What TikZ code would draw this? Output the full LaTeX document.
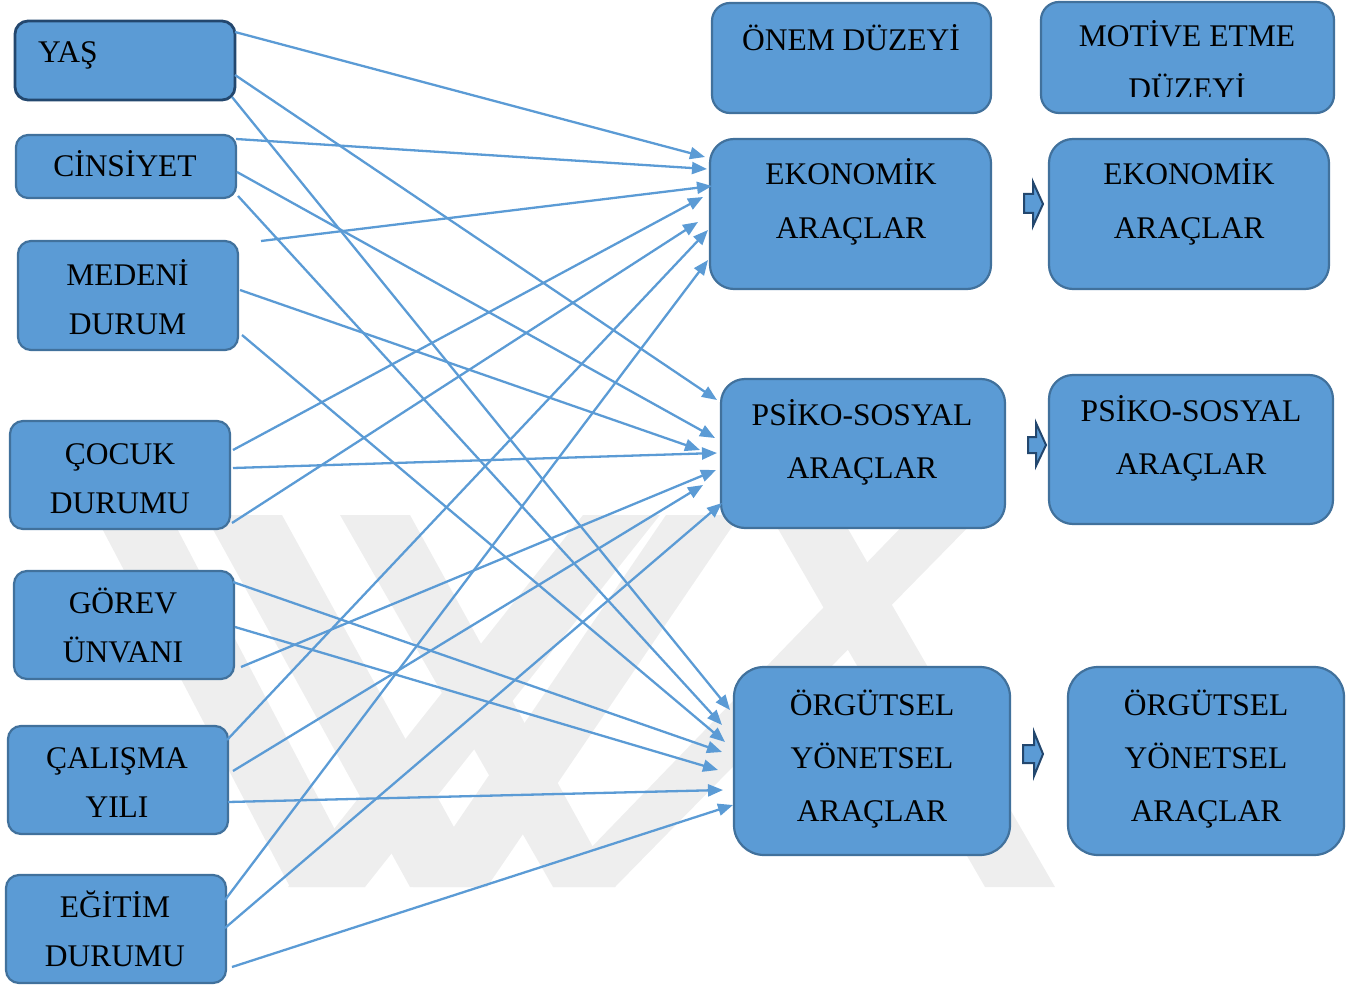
\documentclass[tikz,border=0pt]{standalone}
\usepackage{fontspec}
\setmainfont{Liberation Serif}
\usetikzlibrary{arrows.meta,calc}
\definecolor{boxfill}{HTML}{5B9BD5}
\definecolor{boxline}{HTML}{41719C}
\definecolor{darkline}{HTML}{23476E}
\definecolor{wm}{HTML}{EEEEEE}
\tikzset{
  box/.style={draw=boxline, fill=boxfill, line width=2.2pt, inner sep=0pt},
  smallbox/.style={box, rounded corners=13pt, minimum width=220pt, minimum height=108pt},
  txt/.style={inner sep=0pt, anchor=base, font=\fontsize{31.5}{38}\selectfont},
  conn/.style={draw=boxfill, line width=2.3pt, -{Triangle[length=15pt,width=12pt]}},
  blockarrow/.style={draw=darkline, fill=boxfill, line width=2pt, line join=miter},
  wmband/.style={fill=wm, draw=none},
}
\newcommand\cnx[4]{\draw[conn] ($(#1)+(#2)$) -- ($(#3)+(#4)$);}
\begin{document}
\begin{tikzpicture}[x=1pt,y=-1pt]
\useasboundingbox (0,0) rectangle (1357,987);

% faint watermark in the background
\fill[wmband] (95,515) -- (170,515) -- (365,887) -- (290,887) -- cycle;
\fill[wmband] (583,515) -- (660,515) -- (365,887) -- (288,887) -- cycle;
\fill[wmband] (205,515) -- (282,515) -- (487,887) -- (410,887) -- cycle;
\fill[wmband] (666,515) -- (740,515) -- (487,887) -- (413,887) -- cycle;
\fill[wmband] (340,515) -- (410,515) -- (615,887) -- (553,887) -- cycle;
\fill[wmband] (913,515) -- (980,515) -- (615,887) -- (553,887) -- cycle;
\fill[wmband] (770,515) -- (840,515) -- (1055,887) -- (985,887) -- cycle;

% left column boxes
\node[box, draw=darkline, line width=2.8pt, rounded corners=13pt, minimum width=220pt, minimum height=79pt] (yas) at (125,60.5) {};
\node[box, rounded corners=12pt, minimum width=220pt, minimum height=63pt] (cins) at (126,166.5) {};
\node[smallbox, minimum height=109pt] (med) at (128,295.5) {};
\node[smallbox] (coc) at (120,475) {};
\node[smallbox] (gor) at (124,625) {};
\node[smallbox] (cal) at (118,780) {};
\node[smallbox] (egi) at (116,929) {};

% right boxes
\node[box, rounded corners=18pt, minimum width=279pt, minimum height=110pt] (onem) at (851.5,58) {};
\node[box, rounded corners=18pt, minimum width=293pt, minimum height=111pt] (motive) at (1187.5,57.5) {};
\node[box, rounded corners=24pt, minimum width=281pt, minimum height=150pt] (eko) at (850.5,214) {};
\node[box, rounded corners=24pt, minimum width=280pt, minimum height=150pt] (eko2) at (1189,214) {};
\node[box, rounded corners=24pt, minimum width=284pt, minimum height=149pt] (psi) at (863,453.5) {};
\node[box, rounded corners=24pt, minimum width=284pt, minimum height=149pt] (psi2) at (1191,449.5) {};
\node[box, rounded corners=30pt, minimum width=276pt, minimum height=188pt] (org) at (872,761) {};
\node[box, rounded corners=30pt, minimum width=276pt, minimum height=188pt] (org2) at (1206,761) {};

% texts
\node[txt, anchor=base west] (tyas) at (38,63) {YAŞ};
\node[txt] (tcins) at (125,177) {CİNSİYET};
\node[txt] (tmed1) at (127.5,285) {MEDENİ};
\node[txt] (tmed2) at (127.5,334) {DURUM};
\node[txt] (tcoc1) at (120,464) {ÇOCUK};
\node[txt] (tcoc2) at (120,513) {DURUMU};
\node[txt] (tgor1) at (123,613) {GÖREV};
\node[txt] (tgor2) at (123,662) {ÜNVANI};
\node[txt] (tcal1) at (117,768) {ÇALIŞMA};
\node[txt] (tcal2) at (117,817) {YILI};
\node[txt] (tegi1) at (115,917) {EĞİTİM};
\node[txt] (tegi2) at (115,966) {DURUMU};

\node[txt] (tonem) at (851,51) {ÖNEM DÜZEYİ};
\begin{scope}
\clip (1041,2) rectangle (1334,97);
\node[txt] (tmot1) at (1187,47) {MOTİVE ETME};
\node[txt] (tmot2) at (1187,100) {DÜZEYİ};
\end{scope}
\node[txt] (teko1) at (851,185) {EKONOMİK};
\node[txt] (teko2) at (851,238) {ARAÇLAR};
\node[txt] (teko3) at (1189,185) {EKONOMİK};
\node[txt] (teko4) at (1189,238) {ARAÇLAR};
\node[txt] (tpsi1) at (862,425) {PSİKO-SOSYAL};
\node[txt] (tpsi2) at (862,478) {ARAÇLAR};
\node[txt] (tpsi3) at (1191,421) {PSİKO-SOSYAL};
\node[txt] (tpsi4) at (1191,474) {ARAÇLAR};
\node[txt] (torg1) at (872,715) {ÖRGÜTSEL};
\node[txt] (torg2) at (872,768) {YÖNETSEL};
\node[txt] (torg3) at (872,821) {ARAÇLAR};
\node[txt] (torg4) at (1206,715) {ÖRGÜTSEL};
\node[txt] (torg5) at (1206,768) {YÖNETSEL};
\node[txt] (torg6) at (1206,821) {ARAÇLAR};

% block arrows
\draw[blockarrow] (1024,194) -- (1033,194) -- (1033,182) -- (1043,204) -- (1033,226) -- (1033,213) -- (1024,213) -- cycle;
\draw[blockarrow] (1028,437) -- (1036,437) -- (1036,423) -- (1046,445) -- (1036,466) -- (1036,453) -- (1028,453) -- cycle;
\draw[blockarrow] (1023,745) -- (1034,745) -- (1034,732) -- (1043,754) -- (1034,776) -- (1034,763) -- (1023,763) -- cycle;

% connectors
\coordinate (free) at (261,241);
\cnx{yas.center}{110,-28.5}{eko.center}{-145.5,-57}
\cnx{yas.center}{110,14.5}{psi.center}{-146,-53.5}
\cnx{yas.center}{107,36.5}{org.center}{-142,-51}
\cnx{cins.center}{110,-27.5}{eko.center}{-143.5,-45}
\cnx{cins.center}{111,5.5}{psi.center}{-148,-15.5}
\cnx{cins.center}{112,29.5}{org.center}{-150,-36}
\cnx{free}{0,0}{eko.center}{-138.5,-28}
\cnx{med.center}{112,-5.5}{psi.center}{-163,-3.5}
\cnx{med.center}{114,39.5}{org.center}{-147,-19}
\cnx{coc.center}{113,-25}{eko.center}{-147.5,-17}
\cnx{coc.center}{113,-7}{psi.center}{-146,-0.5}
\cnx{coc.center}{112,48}{eko.center}{-152.5,8}
\cnx{gor.center}{117,42}{psi.center}{-147,16.5}
\cnx{gor.center}{109,-43}{org.center}{-150,-9}
\cnx{gor.center}{111,2}{org.center}{-154,9}
\cnx{cal.center}{109,-40}{eko.center}{-142.5,16}
\cnx{cal.center}{115,-9}{psi.center}{-160,31.5}
\cnx{cal.center}{110,22}{org.center}{-149,29}
\cnx{egi.center}{109,-29}{eko.center}{-142.5,46}
\cnx{egi.center}{109,-1}{psi.center}{-141,49.5}
\cnx{egi.center}{116,38}{org.center}{-139,44}
\end{tikzpicture}
\end{document}
